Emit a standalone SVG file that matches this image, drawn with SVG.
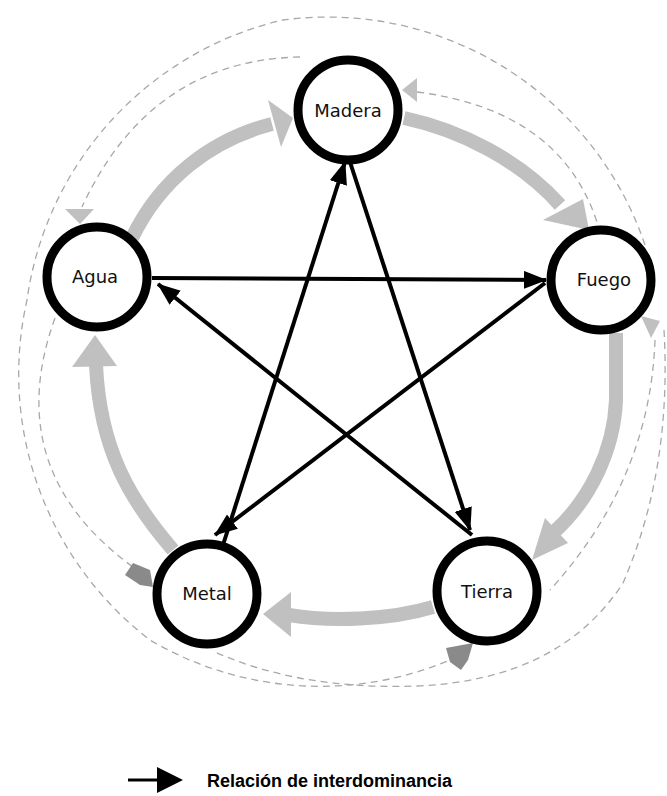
<svg xmlns="http://www.w3.org/2000/svg" width="667" height="796" viewBox="0 0 667 796">
<defs>
<marker id="ah" markerUnits="userSpaceOnUse" markerWidth="24" markerHeight="20" refX="22" refY="9" orient="auto"><path d="M0,0 L23,9 L0,18 Z" fill="#000"/></marker>
</defs>
<style>
.node circle{fill:#fff;stroke:#000;stroke-width:9}
.node text{font-family:"DejaVu Sans",sans-serif;font-size:18px;fill:#111;text-anchor:middle}
.dash{fill:none;stroke:#a8a8a8;stroke-width:1.3;stroke-dasharray:7 5}
.gray{fill:none;stroke:#c0c0c0;stroke-width:14}
.ghead{fill:#c0c0c0}
.dhead{fill:#8a8a8a}
.blk{fill:none;stroke:#000;stroke-width:4;marker-end:url(#ah)}
</style>
<rect width="667" height="796" fill="#fff"/>
<g id="connectors">
<g id="dashed">
<path class="dash" d="M645,245 A335,335 0 0 0 283,20 A335,335 0 0 0 27,300 A335,335 0 0 0 150,640 A335,335 0 0 0 450,660"/>
<path class="dash" d="M300,57 Q150,60 82,207"/>
<path class="dash" d="M55,318 Q0,470 133,567"/>
<path class="dash" d="M417,92 Q560,110 597,222"/>
<path class="dash" d="M655,340 Q650,480 550,590"/>
<path class="dash" d="M664,330 Q672,470 623,583 Q560,680 417,686 Q300,690 215,652"/>
<polygon class="ghead" points="65,209 94,209 80,224"/>
<polygon class="ghead" points="402,90 417,78 417,102"/>
<polygon class="ghead" points="641,316 660,321 651,338"/>
<polygon class="dhead" points="446,648 473,643 468,660 461,670 450,662"/>
<polygon class="dhead" points="125,575 133,563 150,570 153,587 140,585"/>
</g>
<g id="generation">
<path class="gray" d="M132,238 C160,180 210,140 272,124"/>
<polygon class="ghead" points="268,100 293,118 281,147"/>
<path class="gray" d="M404,118 C460,130 520,160 560,205"/>
<polygon class="ghead" points="583,199 543,220 589,230"/>
<path class="gray" d="M616,333 L616,400 C614,450 590,500 553,533"/>
<polygon class="ghead" points="568,543 532,560 545,518"/>
<path class="gray" d="M433,607 C390,620 330,622 289,615"/>
<polygon class="ghead" points="263,614 291,592 291,637"/>
<path class="gray" d="M173,550 C130,500 100,450 96,365"/>
<polygon class="ghead" points="95,335 72,367 117,366"/>
</g>
<g id="dominance">
<path class="blk" d="M152,278 L546,280"/>
<path class="blk" d="M545,283 L215,535"/>
<path class="blk" d="M223,545 L345,162"/>
<path class="blk" d="M350,162 L470,530"/>
<path class="blk" d="M472,535 L158,284"/>
</g>
</g>
<g id="madera" class="node"><circle cx="348" cy="110" r="50"/><text x="348" y="117">Madera</text></g>
<g id="agua" class="node"><circle cx="97" cy="277" r="50"/><text x="95" y="283">Agua</text></g>
<g id="fuego" class="node"><circle cx="601" cy="280" r="50"/><text x="604" y="286">Fuego</text></g>
<g id="metal" class="node"><circle cx="207" cy="594" r="50"/><text x="207" y="600">Metal</text></g>
<g id="tierra" class="node"><circle cx="487" cy="591" r="50"/><text x="487" y="598">Tierra</text></g>
<g id="legend">
<path d="M128,780 L160,780" stroke="#000" stroke-width="3"/>
<polygon points="157,767 183,780 157,793" fill="#000"/>
<text x="207" y="787" font-family="Liberation Sans, Arial, sans-serif" font-size="18" font-weight="bold" fill="#000">Relación de interdominancia</text>
</g>
</svg>
